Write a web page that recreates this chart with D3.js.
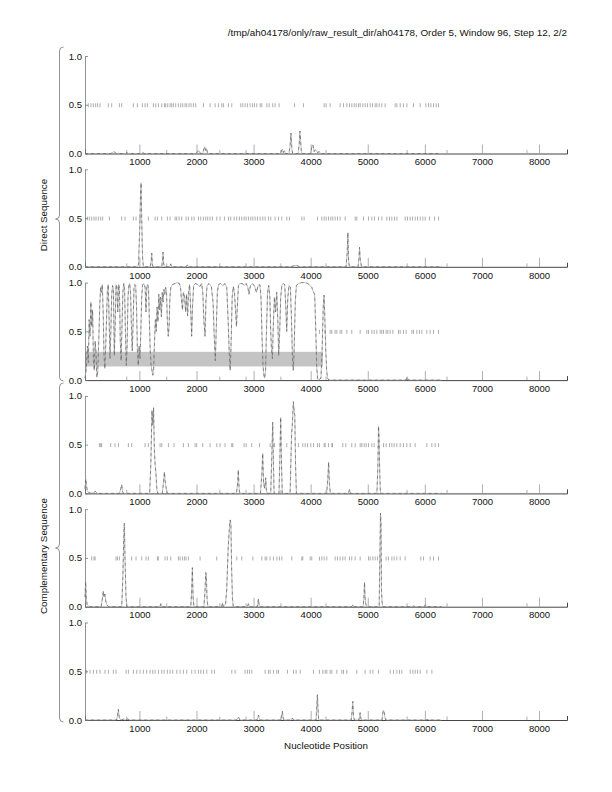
<!DOCTYPE html>
<html>
<head>
<meta charset="utf-8">
<script src="https://cdn.jsdelivr.net/npm/d3@7"></script>
<style>
  body { margin: 0; background: #fff; }
  svg { display: block; font-family: "Liberation Sans", Arial, sans-serif; }
</style>
</head>
<body>
<svg id="chart" width="612" height="792"></svg>
<script>
// ---- data ----
const title = "/tmp/ah04178/only/raw_result_dir/ah04178, Order 5, Window 96, Step 12, 2/2";
const groupLabels = ["Direct Sequence", "Complementary Sequence"];
const xDomain = [47, 8490];
const majorTicks = [1000, 2000, 3000, 4000, 5000, 6000, 7000, 8000];
const minorTicks = [770, 1470, 2400, 2860, 3470, 4260, 5680, 6380, 7780];
const yTicks = [0, 0.5, 1];

// coding potential curves, one per frame [position, value]
const frame1 = [[47,0],[500,0],[530,0.01],[560,0.02],[590,0],[760,0],[780,0.01],[800,0],[1040,0],[1060,0.01],[1080,0],[1990,0],[2020,0.02],[2045,0.03],[2070,0],[2110,0],[2130,0.05],[2145,0.07],[2160,0.03],[2175,0.05],[2195,0],[3470,0],[3490,0.03],[3505,0.045],[3520,0.01],[3540,0.03],[3560,0],[3620,0],[3640,0.08],[3655,0.21],[3670,0.05],[3685,0],[3780,0],[3800,0.1],[3812,0.23],[3825,0.12],[3840,0],[4000,0],[4015,0.05],[4030,0.09],[4045,0.08],[4060,0.02],[4085,0.04],[4100,0.03],[4120,0.01],[4150,0.02],[4170,0],[6290,0]];
const frame2 = [[47,0],[960,0],[985,0.02],[1005,0.38],[1020,0.75],[1030,0.86],[1040,0.5],[1055,0.1],[1070,0],[1190,0],[1205,0.05],[1216,0.14],[1228,0.02],[1240,0],[1390,0],[1405,0.06],[1414,0.15],[1425,0.03],[1440,0],[1530,0],[1549,0.03],[1565,0],[1820,0],[1840,0.02],[1860,0],[3650,0],[3700,0.01],[3760,0.015],[3800,0],[4620,0],[4640,0.15],[4652,0.35],[4665,0.05],[4680,0],[4830,0],[4845,0.08],[4856,0.2],[4866,0.09],[4878,0.04],[4890,0],[6290,0]];
const frame3 = [[47,0.02],[70,0.12],[90,0.35],[105,0.18],[120,0.62],[135,0.45],[150,0.8],[165,0.55],[180,0.72],[195,0.2],[210,0.1],[225,0.4],[240,0.28],[255,0.03],[270,0.08],[290,0.45],[305,0.75],[320,0.95],[335,0.9],[350,0.98],[365,0.7],[380,0.25],[395,0.12],[410,0.35],[425,0.65],[440,0.92],[455,0.98],[470,0.6],[485,0.22],[500,0.5],[515,0.88],[530,0.97],[545,0.93],[560,0.25],[575,0.55],[590,0.98],[605,0.96],[620,0.7],[635,0.98],[650,0.95],[665,0.4],[680,0.2],[695,0.55],[710,0.9],[725,0.99],[740,0.95],[755,0.5],[770,0.15],[785,0.35],[800,0.85],[815,0.97],[830,0.99],[845,0.9],[860,0.55],[875,0.3],[890,0.6],[905,0.94],[920,0.98],[935,0.97],[950,0.75],[965,0.3],[980,0.15],[995,0.35],[1010,0.22],[1025,0.5],[1040,0.85],[1055,0.97],[1070,0.99],[1085,0.98],[1100,0.95],[1115,0.7],[1130,0.96],[1145,0.98],[1160,0.94],[1175,0.6],[1190,0.3],[1205,0.15],[1220,0.1],[1235,0.05],[1250,0.12],[1265,0.4],[1280,0.62],[1295,0.5],[1310,0.75],[1325,0.6],[1340,0.88],[1355,0.72],[1370,0.85],[1385,0.65],[1400,0.9],[1415,0.8],[1430,0.93],[1445,0.88],[1460,0.95],[1475,0.9],[1490,0.6],[1505,0.45],[1520,0.55],[1535,0.85],[1550,0.95],[1580,0.98],[1620,0.99],[1660,1.0],[1700,0.99],[1720,0.95],[1740,0.8],[1755,0.72],[1770,0.9],[1790,0.86],[1810,0.7],[1825,0.88],[1845,0.66],[1860,0.9],[1880,0.98],[1900,0.7],[1915,0.45],[1930,0.75],[1950,0.97],[1980,0.99],[2020,0.98],[2060,0.96],[2090,0.99],[2110,0.9],[2130,0.6],[2150,0.45],[2165,0.8],[2185,0.97],[2220,0.99],[2260,0.96],[2290,0.8],[2310,0.45],[2330,0.2],[2345,0.5],[2365,0.9],[2385,0.98],[2420,0.99],[2460,0.97],[2500,0.99],[2530,0.95],[2555,0.6],[2575,0.25],[2590,0.1],[2605,0.35],[2625,0.85],[2645,0.96],[2665,0.9],[2685,0.7],[2700,0.55],[2715,0.75],[2735,0.97],[2760,0.99],[2800,0.99],[2840,0.97],[2870,0.99],[2900,0.95],[2920,0.88],[2945,0.97],[2980,0.99],[3020,0.96],[3050,0.9],[3080,0.97],[3110,0.98],[3130,0.85],[3150,0.4],[3165,0.15],[3180,0.05],[3195,0.02],[3210,0.1],[3225,0.5],[3245,0.9],[3265,0.97],[3285,0.85],[3300,0.5],[3315,0.3],[3330,0.22],[3345,0.55],[3365,0.85],[3385,0.7],[3405,0.9],[3425,0.6],[3440,0.25],[3455,0.45],[3475,0.85],[3495,0.97],[3520,0.99],[3545,0.98],[3565,0.75],[3580,0.5],[3600,0.85],[3620,0.97],[3645,0.95],[3665,0.6],[3680,0.25],[3695,0.1],[3710,0.3],[3730,0.8],[3750,0.97],[3790,0.99],[3840,1.0],[3900,1.0],[3950,0.99],[3990,0.97],[4020,0.95],[4050,0.9],[4070,0.88],[4090,0.5],[4105,0.15],[4120,0.02],[4135,0],[4180,0.02],[4200,0.3],[4220,0.75],[4235,0.87],[4250,0.6],[4265,0.3],[4280,0.1],[4295,0.02],[4320,0],[5670,0],[5690,0.03],[5710,0],[6290,0]];
const frame4 = [[47,0.05],[60,0.15],[70,0.1],[85,0.03],[110,0.01],[150,0],[200,0.01],[230,0.02],[260,0],[650,0],[675,0.05],[690,0.09],[705,0.02],[720,0],[1180,0],[1200,0.3],[1220,0.85],[1235,0.7],[1248,0.88],[1262,0.45],[1275,0.3],[1290,0.2],[1305,0.05],[1320,0],[1400,0],[1420,0.1],[1438,0.22],[1452,0.12],[1470,0.05],[1490,0],[2700,0],[2720,0.1],[2733,0.24],[2746,0.05],[2760,0],[3120,0],[3145,0.2],[3160,0.41],[3175,0.1],[3195,0.05],[3212,0.16],[3225,0.03],[3240,0],[3300,0],[3320,0.4],[3335,0.73],[3348,0.3],[3360,0],[3445,0],[3462,0.4],[3475,0.78],[3488,0.35],[3502,0],[3640,0],[3665,0.6],[3680,0.72],[3697,0.94],[3710,0.85],[3722,0.8],[3735,0.3],[3750,0],[4280,0],[4300,0.15],[4315,0.32],[4328,0.1],[4345,0],[4660,0],[4680,0.04],[4700,0],[5160,0],[5178,0.3],[5188,0.69],[5198,0.58],[5210,0.2],[5222,0],[6290,0]];
const frame5 = [[47,0.1],[58,0.26],[70,0.08],[85,0.02],[120,0],[330,0],[355,0.1],[368,0.16],[380,0.1],[395,0.13],[410,0.06],[430,0.02],[460,0],[690,0],[710,0.3],[725,0.7],[736,0.855],[748,0.5],[765,0.1],[780,0],[1360,0],[1376,0.03],[1390,0],[1900,0],[1915,0.15],[1928,0.4],[1940,0.1],[1955,0],[2130,0],[2148,0.15],[2162,0.35],[2172,0.33],[2185,0.08],[2200,0],[2440,0],[2455,0.04],[2470,0],[2510,0.03],[2530,0.18],[2555,0.6],[2575,0.8],[2589,0.89],[2603,0.85],[2615,0.4],[2630,0.08],[2645,0],[2890,0],[2910,0.03],[2925,0],[3065,0],[3085,0.08],[3100,0],[4720,0],[4740,0.02],[4760,0],[4920,0],[4935,0.12],[4943,0.25],[4952,0.1],[4965,0.03],[4980,0],[5200,0],[5212,0.5],[5223,0.96],[5232,0.86],[5240,0.18],[5250,0.05],[5265,0],[5790,0],[5805,0.01],[5820,0],[5990,0],[6010,0.02],[6030,0],[6290,0]];
const frame6 = [[47,0],[600,0],[618,0.05],[632,0.11],[645,0.03],[660,0.01],[680,0],[720,0.01],[745,0],[800,0.01],[830,0],[2700,0],[2735,0.03],[2760,0],[3060,0],[3078,0.035],[3088,0.05],[3100,0.01],[3115,0],[3480,0],[3495,0.05],[3505,0.09],[3515,0.03],[3530,0],[3660,0],[3680,0.02],[3700,0],[4095,0],[4108,0.15],[4118,0.26],[4128,0.12],[4140,0],[4710,0],[4725,0.08],[4738,0.19],[4750,0.04],[4765,0],[4845,0],[4858,0.05],[4867,0.075],[4877,0.02],[4890,0],[5250,0],[5265,0.08],[5275,0.1],[5287,0.08],[5300,0.03],[5315,0],[6030,0],[6045,0.01],[6060,0],[6290,0]];

// stop codon positions per frame (drawn at 0.5)
const stops1 = [105,152,193,234,269,310,456,515,649,690,894,964,1052,1099,1140,1245,1286,1333,1391,1438,1461,1496,1537,1566,1595,1636,1683,1724,1759,1800,1829,1870,1905,1946,1987,2121,2238,2326,2384,2443,2471,2559,2618,2776,2811,2852,2892,2939,2980,3015,3056,3115,3144,3232,3272,3336,3377,3447,3716,3874,4236,4271,4341,4516,4575,4633,4680,4721,4762,4797,4838,4867,4914,4955,4995,5042,5083,5130,5159,5200,5247,5305,5480,5510,5568,5626,5685,5801,5918,6018,6064,6106,6152,6199,6239];
const stops2 = [88,123,164,205,240,281,322,357,474,690,748,894,941,1011,1157,1274,1315,1391,1490,1537,1625,1654,1695,1741,1817,1858,1917,1958,2034,2075,2121,2162,2197,2238,2279,2355,2413,2489,2560,2600,2659,2705,2752,2793,2834,2869,2910,2951,2986,3027,3068,3114,3161,3202,3260,3301,3377,3436,3494,3582,3628,3845,3885,4119,4195,4236,4271,4312,4353,4388,4429,4470,4516,4604,4779,4808,4925,5013,5071,5118,5188,5247,5334,5381,5422,5469,5510,5656,5697,5743,5784,5831,5872,5919,5965,6006,6082,6170,6240];
const stops3 = [4154,4253,4341,4370,4428,4458,4516,4545,4633,4720,4867,4983,5013,5071,5112,5159,5217,5246,5276,5322,5351,5392,5439,5538,5568,5626,5673,5772,5801,5860,5906,5947,6035,6093,6152,6239];
const stops4 = [298,322,339,497,573,632,807,865,1099,1157,1362,1391,1508,1607,1771,1858,1975,2004,2110,2238,2355,2413,2501,2618,2635,2834,2869,2968,3103,3290,3366,3465,3582,3786,3862,3903,3944,4002,4049,4119,4154,4236,4254,4312,4370,4382,4563,4615,4720,4779,4867,4896,4937,4972,5013,5071,5112,5188,5276,5322,5381,5422,5462,5509,5568,5626,5684,5743,5830,6035,6123,6181,6239];
const stops5 = [164,205,223,591,614,649,865,941,1040,1116,1157,1315,1332,1449,1490,1549,1683,1712,1753,1788,1817,1858,2063,2355,2705,2793,2986,3144,3202,3231,3290,3348,3407,3453,3494,3669,3845,3862,3991,4019,4154,4195,4236,4283,4429,4469,4516,4563,4604,4680,4720,4779,4867,5013,5042,5089,5129,5170,5217,5322,5363,5422,5462,5509,5568,5655,5930,5977,6093,6152,6239];
const stops6 = [76,135,193,252,310,398,456,544,591,766,807,894,953,1011,1070,1128,1186,1233,1274,1333,1391,1432,1490,1537,1584,1654,1712,1771,1829,1917,1975,2034,2075,2121,2180,2267,2314,2618,2676,2851,2892,2927,2968,3202,3260,3290,3348,3407,3436,3593,3699,3745,3816,4049,4154,4213,4254,4283,4341,4370,4458,4546,4575,4633,4808,4954,5042,5089,5188,5393,5451,5510,5556,5597,5743,5790,5831,5872,5919,6035,6123];

// predicted gene region (frame 3): [start, end, low, high]
const geneBox = [47, 4215, 0.14, 0.29];

const curves = [frame1, frame2, frame3, frame4, frame5, frame6];
const stops = [stops1, stops2, stops3, stops4, stops5, stops6];

// ---- layout ----
const svg = d3.select("#chart");
const left = 85, right = 567;
const panelTop = 56, panelStep = 113.3, panelH = 97.5;

const x = d3.scaleLinear().domain(xDomain).range([left, right]);

svg.append("text")
    .attr("x", right).attr("y", 35.5)
    .attr("text-anchor", "end")
    .attr("font-size", 9.9)
    .attr("fill", "#111")
    .text(title);

curves.forEach((data, i) => {
    const top = panelTop + i * panelStep;
    const y = d3.scaleLinear().domain([0, 1]).range([top + panelH, top]);
    const g = svg.append("g");

    // gene box in frame 3
    if (i === 2) {
        g.append("rect")
            .attr("x", x(geneBox[0]))
            .attr("y", y(geneBox[3]))
            .attr("width", x(geneBox[1]) - x(geneBox[0]))
            .attr("height", y(geneBox[2]) - y(geneBox[3]))
            .attr("fill", "#c4c4c4");
    }

    // x axis: major ticks with labels
    const xa = g.append("g")
        .attr("transform", `translate(0,${y(0)})`)
        .call(d3.axisBottom(x).tickValues(majorTicks).tickSize(-9).tickSizeOuter(-4).tickPadding(5).tickFormat(d3.format("d")));
    xa.select(".domain").attr("stroke", "#444").attr("stroke-width", 1);
    xa.selectAll(".tick line").attr("stroke", "#9a9a9a").attr("stroke-width", 0.8);
    xa.selectAll("text").attr("font-size", 9.5).attr("fill", "#111").attr("font-family", "Liberation Sans, Arial, sans-serif");

    // minor ticks
    const xm = g.append("g")
        .attr("transform", `translate(0,${y(0)})`)
        .call(d3.axisBottom(x).tickValues(minorTicks).tickSize(-3.5).tickFormat(""));
    xm.select(".domain").remove();
    xm.selectAll(".tick line").attr("stroke", "#9a9a9a").attr("stroke-width", 0.8);

    // y axis
    const ya = g.append("g")
        .attr("transform", `translate(${left},0)`)
        .call(d3.axisLeft(y).tickValues(yTicks).tickSize(-3).tickSizeOuter(0).tickPadding(3).tickFormat(d3.format(".1f")));
    ya.select(".domain").attr("stroke", "#777").attr("stroke-width", 0.8);
    ya.selectAll(".tick line").attr("stroke", "#777").attr("stroke-width", 0.8);
    ya.selectAll("text").attr("font-size", 9.5).attr("fill", "#111").attr("font-family", "Liberation Sans, Arial, sans-serif");

    // stop codons
    g.append("g").selectAll("line")
        .data(stops[i])
        .join("line")
        .attr("x1", d => x(d)).attr("x2", d => x(d))
        .attr("y1", y(0.5) - 1.5).attr("y2", y(0.5) + 2.5)
        .attr("stroke", "#8a8a8a")
        .attr("stroke-width", 0.7);

    // curve: light base with darker dashes on top
    const line = d3.line().x(d => x(d[0])).y(d => y(d[1]));
    g.append("path")
        .datum(data)
        .attr("d", line)
        .attr("fill", "none")
        .attr("stroke", "#a8a8a8")
        .attr("stroke-width", 0.7);
    g.append("path")
        .datum(data)
        .attr("d", line)
        .attr("fill", "none")
        .attr("stroke", "#555")
        .attr("stroke-width", 0.6)
        .attr("stroke-dasharray", "3,3");
});

// braces grouping the panels
function brace(y0, y1, ym, bx) {
    return `M${bx + 4},${y0} Q${bx},${y0} ${bx},${y0 + 4} L${bx},${ym - 4} Q${bx},${ym} ${bx - 4},${ym} ` +
           `Q${bx},${ym} ${bx},${ym + 4} L${bx},${y1 - 4} Q${bx},${y1} ${bx + 4},${y1}`;
}
const braces = [[47, 381, 219, 215], [383, 722, 548, 556]];
braces.forEach((b, i) => {
    svg.append("path")
        .attr("d", brace(b[0], b[1], b[2], 59.5))
        .attr("fill", "none")
        .attr("stroke", "#777")
        .attr("stroke-width", 0.8);
    svg.append("text")
        .attr("transform", `translate(47,${b[3]}) rotate(-90)`)
        .attr("text-anchor", "middle")
        .attr("font-size", 9.8)
        .attr("fill", "#111")
        .text(groupLabels[i]);
});

svg.append("text")
    .attr("x", 326).attr("y", 748.5)
    .attr("text-anchor", "middle")
    .attr("font-size", 9.8)
    .attr("fill", "#111")
    .text("Nucleotide Position");
</script>
</body>
</html>
